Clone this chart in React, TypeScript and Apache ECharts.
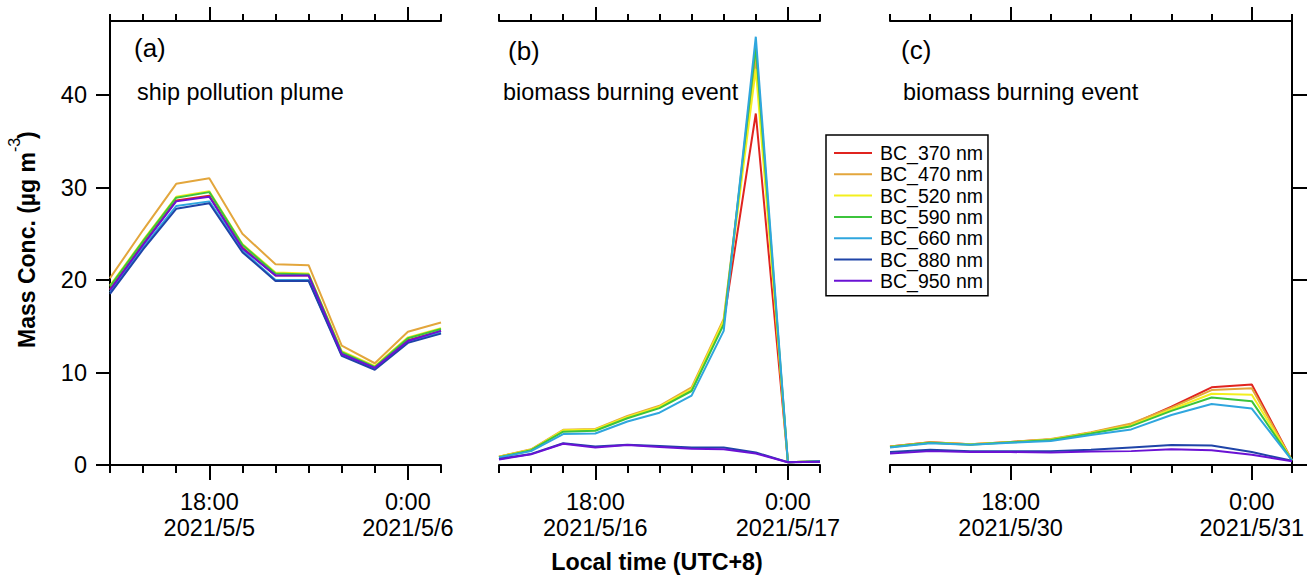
import React, { useEffect, useRef } from "react";
import * as echarts from "echarts";

// hours of day (24 = 0:00 next day, 25 = 1:00 next day)
const hours = [15, 16, 17, 18, 19, 20, 21, 22, 23, 24, 25];
const majorHours = [18, 24];
const majorTimeLabels = ["18:00", "0:00"];
const yTicks = [0, 10, 20, 30, 40];

const seriesNames = ["BC_370 nm", "BC_470 nm", "BC_520 nm", "BC_590 nm", "BC_660 nm", "BC_880 nm", "BC_950 nm"];
const seriesColors = ["#e0241f", "#e3a63c", "#f3ef1e", "#3cc43c", "#2fa6de", "#1f44a8", "#6a12d4"];

const datesA = ["2021/5/5", "2021/5/6"];
const datesB = ["2021/5/16", "2021/5/17"];
const datesC = ["2021/5/30", "2021/5/31"];

const panelLetters = ["(a)", "(b)", "(c)"];
const panelTitles = ["ship pollution plume", "biomass burning event", "biomass burning event"];

// panel (a) ship pollution plume, 2021/5/5
const a370 = [19.0, 23.9, 28.6, 29.1, 23.5, 20.5, 20.5, 12.0, 10.5, 13.5, 14.5];
const a470 = [20.2, 25.4, 30.4, 31.0, 25.0, 21.7, 21.6, 12.9, 11.0, 14.4, 15.4];
const a520 = [19.4, 24.3, 29.0, 29.6, 23.9, 20.8, 20.7, 12.3, 10.7, 13.8, 14.8];
const a590 = [19.3, 24.2, 28.9, 29.5, 23.8, 20.7, 20.6, 12.2, 10.6, 13.7, 14.7];
const a660 = [18.7, 23.5, 28.0, 28.5, 23.2, 20.0, 20.0, 11.9, 10.4, 13.3, 14.3];
const a880 = [18.5, 23.3, 27.7, 28.3, 23.0, 19.9, 19.9, 11.8, 10.3, 13.2, 14.2];
const a950 = [18.9, 23.8, 28.5, 29.0, 23.4, 20.5, 20.5, 12.0, 10.5, 13.4, 14.5];

// panel (b) biomass burning event, 2021/5/16
const b370 = [0.9, 1.65, 3.7, 3.8, 5.15, 6.25, 8.1, 15.5, 38.0, 0.3, 0.4];
const b470 = [0.9, 1.7, 3.8, 3.9, 5.3, 6.4, 8.4, 15.8, 44.0, 0.3, 0.4];
const b520 = [0.9, 1.65, 3.75, 3.85, 5.2, 6.3, 8.2, 15.6, 42.8, 0.3, 0.4];
const b590 = [0.85, 1.6, 3.6, 3.7, 5.05, 6.15, 8.0, 15.2, 45.2, 0.3, 0.4];
const b660 = [0.8, 1.5, 3.35, 3.4, 4.7, 5.65, 7.5, 14.5, 46.3, 0.3, 0.4];
const b880 = [0.65, 1.2, 2.35, 2.0, 2.2, 2.05, 1.9, 1.9, 1.35, 0.3, 0.35];
const b950 = [0.6, 1.15, 2.3, 1.9, 2.15, 1.95, 1.75, 1.7, 1.25, 0.3, 0.35];

// panel (c) biomass burning event, 2021/5/30
const c370 = [2.0, 2.45, 2.25, 2.5, 2.75, 3.5, 4.4, 6.3, 8.4, 8.7, 0.5];
const c470 = [2.0, 2.45, 2.25, 2.5, 2.8, 3.55, 4.5, 6.2, 8.1, 8.3, 0.5];
const c520 = [1.95, 2.4, 2.25, 2.45, 2.75, 3.45, 4.3, 6.0, 7.7, 7.6, 0.5];
const c590 = [1.95, 2.4, 2.2, 2.45, 2.7, 3.4, 4.2, 5.85, 7.3, 6.9, 0.5];
const c660 = [1.9, 2.35, 2.2, 2.4, 2.6, 3.25, 3.85, 5.4, 6.6, 6.1, 0.5];
const c880 = [1.4, 1.65, 1.5, 1.5, 1.5, 1.65, 1.9, 2.15, 2.1, 1.4, 0.45];
const c950 = [1.25, 1.5, 1.4, 1.4, 1.35, 1.45, 1.5, 1.7, 1.6, 1.1, 0.4];

const panelSeries = [
  [a370, a470, a520, a590, a660, a880, a950],
  [b370, b470, b520, b590, b660, b880, b950],
  [c370, c470, c520, c590, c660, c880, c950],
];
const panelDates = [datesA, datesB, datesC];

const yTitleMain = "Mass Conc. (µg m";
const yTitleSup = "-3";
const yTitleEnd = ")";
const xTitle = "Local time (UTC+8)";

const FONT = "'Liberation Sans', Arial, Helvetica, sans-serif";

const grids = [
  { left: 110, top: 21, width: 331, height: 444 },
  { left: 499, top: 21, width: 321, height: 444 },
  { left: 890, top: 21, width: 402, height: 444 },
];

const axisLineStyle = { color: "#000", width: 2 };

function buildOption() {
  const xAxis: any[] = [];
  const yAxis: any[] = [];
  const series: any[] = [];

  grids.forEach((_, g) => {
    const base = {
      type: "value",
      gridIndex: g,
      min: 15,
      max: 25,
      splitLine: { show: false },
    };
    xAxis.push({
      ...base,
      position: "bottom",
      axisLine: { show: true, onZero: false, lineStyle: axisLineStyle },
      axisTick: { show: true, customValues: hours, length: 8, lineStyle: axisLineStyle },
      axisLabel: { show: false },
    });
    xAxis.push({
      ...base,
      position: "bottom",
      axisLine: { show: false, onZero: false },
      axisTick: { show: true, customValues: majorHours, length: 15, lineStyle: axisLineStyle },
      axisLabel: {
        show: true,
        customValues: majorHours,
        margin: 24,
        fontSize: 23.5,
        lineHeight: 26,
        color: "#000",
        fontFamily: FONT,
        formatter: (v: number) => {
          const idx = majorHours.indexOf(v);
          return idx >= 0 ? `${majorTimeLabels[idx]}\n${panelDates[g][idx]}` : "";
        },
      },
    });
    xAxis.push({
      ...base,
      position: "top",
      axisLine: { show: true, onZero: false, lineStyle: axisLineStyle },
      axisTick: { show: true, customValues: hours, length: 7, lineStyle: axisLineStyle },
      axisLabel: { show: false },
    });
    xAxis.push({
      ...base,
      position: "top",
      axisLine: { show: false, onZero: false },
      axisTick: { show: true, customValues: majorHours, length: 14, lineStyle: axisLineStyle },
      axisLabel: { show: false },
    });

    if (g === 0) {
      yAxis.push({
        type: "value",
        gridIndex: g,
        position: "left",
        min: 0,
        max: 48,
        splitLine: { show: false },
        axisLine: { show: true, onZero: false, lineStyle: axisLineStyle },
        axisTick: { show: true, customValues: yTicks, length: 14, lineStyle: axisLineStyle },
        axisLabel: {
          show: true,
          customValues: yTicks,
          margin: 23,
          fontSize: 23.5,
          color: "#000",
          fontFamily: FONT,
        },
      });
    } else if (g === 1) {
      yAxis.push({ type: "value", gridIndex: g, min: 0, max: 48, show: false });
    } else {
      yAxis.push({
        type: "value",
        gridIndex: g,
        position: "right",
        min: 0,
        max: 48,
        splitLine: { show: false },
        axisLine: { show: true, onZero: false, lineStyle: axisLineStyle },
        axisTick: { show: true, customValues: yTicks, length: 15, lineStyle: axisLineStyle },
        axisLabel: { show: false },
      });
    }

    panelSeries[g].forEach((vals, k) => {
      series.push({
        type: "line",
        name: seriesNames[k],
        xAxisIndex: g * 4,
        yAxisIndex: g,
        data: hours.map((h, i) => [h, vals[i]]),
        symbol: "none",
        showSymbol: false,
        color: seriesColors[k],
        lineStyle: { width: 2, color: seriesColors[k] },
        itemStyle: { color: seriesColors[k] },
        z: 2 + k,
        silent: true,
      });
    });
  });

  const graphic: any[] = [];
  const letterPos = [
    { x: 134, y: 48 },
    { x: 508, y: 51 },
    { x: 901, y: 50 },
  ];
  const titlePos = [
    { x: 137, y: 92 },
    { x: 503, y: 92 },
    { x: 903, y: 92 },
  ];
  panelLetters.forEach((t, i) => {
    graphic.push({
      type: "text",
      x: letterPos[i].x,
      y: letterPos[i].y,
      style: { text: t, fontSize: 26, fontFamily: FONT, fill: "#000", align: "left", verticalAlign: "middle" },
    });
    graphic.push({
      type: "text",
      x: titlePos[i].x,
      y: titlePos[i].y,
      style: { text: panelTitles[i], fontSize: 23.4, fontFamily: FONT, fill: "#000", align: "left", verticalAlign: "middle" },
    });
  });
  graphic.push({
    type: "text",
    x: 657,
    y: 562,
    style: {
      text: xTitle,
      fontSize: 23.3,
      fontWeight: "bold",
      fontFamily: FONT,
      fill: "#000",
      align: "center",
      verticalAlign: "middle",
    },
  });
  // rotated y title: main part, superscript, closing paren
  graphic.push({
    type: "text",
    x: 27,
    y: 348,
    rotation: Math.PI / 2,
    style: {
      text: yTitleMain,
      fontSize: 23,
      fontWeight: "bold",
      fontFamily: FONT,
      fill: "#000",
      align: "left",
      verticalAlign: "middle",
    },
  });
  graphic.push({
    type: "text",
    x: 14,
    y: 152,
    rotation: Math.PI / 2,
    style: {
      text: yTitleSup,
      fontSize: 16,
      fontFamily: FONT,
      fill: "#000",
      align: "left",
      verticalAlign: "middle",
    },
  });
  graphic.push({
    type: "text",
    x: 27,
    y: 139,
    rotation: Math.PI / 2,
    style: {
      text: yTitleEnd,
      fontSize: 23,
      fontWeight: "bold",
      fontFamily: FONT,
      fill: "#000",
      align: "left",
      verticalAlign: "middle",
    },
  });

  return {
    animation: false,
    backgroundColor: "#fff",
    grid: grids,
    xAxis,
    yAxis,
    series,
    legend: {
      data: seriesNames,
      orient: "vertical",
      left: 826,
      top: 135,
      padding: [8, 5, 5, 8],
      icon: "rect",
      itemWidth: 38,
      itemHeight: 2,
      itemGap: 1.3,
      borderColor: "#000",
      borderWidth: 1.5,
      backgroundColor: "#fff",
      selectedMode: false,
      textStyle: { fontSize: 19.5, color: "#000", fontFamily: FONT, padding: [0, 0, 0, 3] },
    },
    graphic,
  };
}

export default function App() {
  const ref = useRef<HTMLDivElement>(null);
  useEffect(() => {
    if (!ref.current) return;
    const chart = echarts.init(ref.current, null, { renderer: "svg" });
    chart.setOption(buildOption() as any);
    return () => chart.dispose();
  }, []);
  return (
    <div
      ref={ref}
      style={{ position: "fixed", left: 0, top: 0, width: 1311, height: 576, background: "#fff" }}
    />
  );
}
